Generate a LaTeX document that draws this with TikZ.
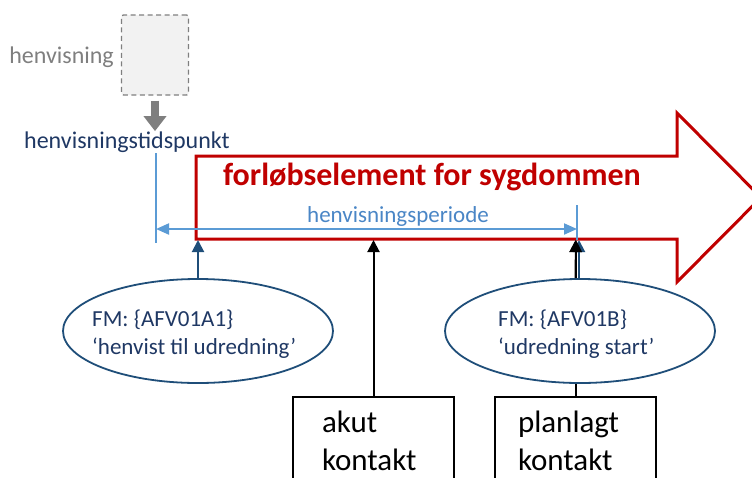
\documentclass[tikz,border=0pt]{standalone}
\usepackage{fontspec}
\setmainfont{Carlito}
\usetikzlibrary{arrows.meta,shapes.geometric}
\definecolor{redC}{HTML}{C00000}
\definecolor{navy}{HTML}{1F3864}
\definecolor{steel}{HTML}{1F4E79}
\definecolor{lblue}{HTML}{5B9BD5}
\definecolor{ptext}{HTML}{4A86C6}
\definecolor{grayC}{HTML}{7F7F7F}
\definecolor{boxfill}{HTML}{F2F2F2}
\begin{document}
\begin{tikzpicture}[x=1pt,y=-1pt,
  lbl/.style={inner sep=0pt, anchor=base},
  fm/.style={ellipse, draw=steel, line width=1.8pt, fill=white, minimum width=270pt, minimum height=104pt, inner sep=0pt},
  fmtext/.style={inner sep=0pt, align=left, anchor=west, text=navy, font=\fontsize{23}{28}\selectfont},
  kbox/.style={draw=black, line width=1.6pt, fill=white, minimum width=161pt, minimum height=87pt, inner sep=0pt, align=left, font=\fontsize{31}{38}\selectfont},
  steelarrow/.style={draw=steel, line width=2pt, -{Triangle[length=12pt,width=12pt]}},
  blackarrow/.style={draw=black, line width=2pt, -{Triangle[length=12pt,width=12pt]}},
  periodline/.style={draw=lblue, line width=1.5pt},
]
\useasboundingbox (0,0) rectangle (752,477);
\clip (0,0) rectangle (752,477);

% red block arrow
\draw[redC, line width=3pt, fill=white, line join=miter]
  (196,156) -- (677,156) -- (677,113) -- (761,197.5) -- (677,282) -- (677,239) -- (196,239) -- cycle;

% texts
\node[lbl, text=redC, font=\fontsize{32}{38}\selectfont\bfseries] (forlob) at (432,185) {forløbselement for sygdommen};
\node[lbl, text=ptext, font=\fontsize{23}{28}\selectfont] (periode) at (398,222) {henvisningsperiode};
\node[lbl, anchor=base east, text=grayC, font=\fontsize{24}{29}\selectfont] (henv) at (114,63) {henvisning};
\node[lbl, text=navy, font=\fontsize{24}{29}\selectfont] (tid) at (127,148) {henvisningstidspunkt};

% henvisning box and arrow
\node[draw=grayC, dash pattern=on 5pt off 3.5pt, fill=boxfill, rounded corners=2pt, line width=1.3pt,
      minimum width=67pt, minimum height=80pt, inner sep=0pt] (hbox) at (155,55) {};
\draw[grayC, line width=8pt, -{Triangle[length=15pt,width=22pt]}, shorten <=5pt] (hbox.south) -- (hbox.south |- tid.north);

% henvisningsperiode
\coordinate (vLt) at (156,153);
\coordinate (vLb) at (156,243);
\coordinate (vRt) at (577,205);
\coordinate (vRb) at (577,240);
\coordinate (pL) at (156,229);
\coordinate (pR) at (577,229);
\draw[periodline] (vLt) -- (vLb);
\draw[periodline] (vRt) -- (vRb);
\draw[draw=lblue, line width=2pt, {Triangle[length=13pt,width=11pt]}-{Triangle[length=13pt,width=11pt]}] (pL) -- (pR);

% points on the bottom edge of the red arrow
\coordinate (r1) at (198,240);
\coordinate (r2) at (374,240);
\coordinate (r3) at (576,240);
\coordinate (r4) at (579,240);

% contact boxes
\node[kbox, text width=103pt] (ak) at (373.5,440.5) {akut\\kontakt};
\node[kbox, text width=115pt] (pk) at (575.5,440.5) {planlagt\\kontakt};

\draw[blackarrow] (ak.north) -- (ak.north |- r2);
\draw[blackarrow] (pk.north) -- (pk.north |- r3);

% ellipses
\node[fm] (e1) at (198,331) {};
\node[fmtext] (e1t) at (92,334.5) {FM: \{AFV01A1\}\\‘henvist til udredning’};
\node[fm] (e2) at (580,331) {};
\node[fmtext] (e2t) at (498,334.5) {FM: \{AFV01B\}\\‘udredning start’};

\draw[steelarrow] (e1.north) -- (r1);
\draw[steelarrow] (e2.north -| r4) -- (r4);
\draw[blackarrow] (pk.north |- e2.north) -- (r3);
\end{tikzpicture}
\end{document}
